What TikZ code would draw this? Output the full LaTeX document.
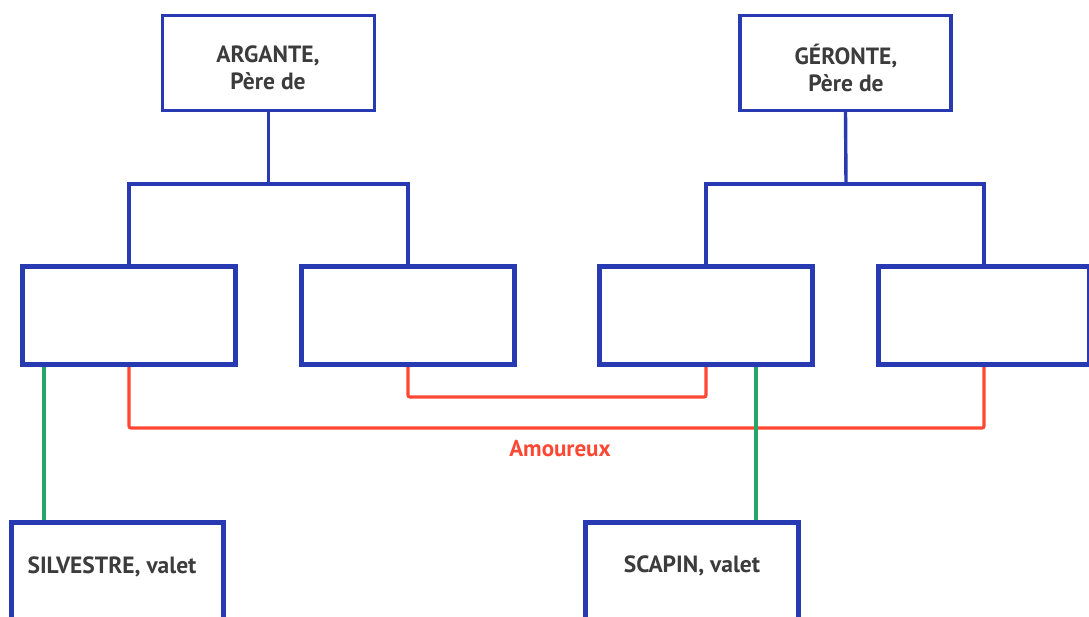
\documentclass[tikz,border=0pt]{standalone}
\usepackage{fontspec}
\setmainfont{PT Sans}
\definecolor{boxblue}{RGB}{40,58,178}
\definecolor{lovered}{RGB}{255,72,52}
\definecolor{valgreen}{RGB}{40,166,104}
\definecolor{txtgray}{RGB}{60,60,60}
\tikzset{
  famille/.style={draw=boxblue, line width=3.4pt, fill=white, inner sep=0pt, line join=miter},
  nomtxt/.style={text=txtgray, font=\fontsize{23.5}{27}\selectfont\bfseries, align=center, inner sep=0pt},
  liena/.style={draw=boxblue, line width=3.4pt, line join=miter},
  amour/.style={draw=lovered, line width=3.2pt, rounded corners=2pt},
  valet/.style={draw=valgreen, line width=3.2pt},
}
\begin{document}
\begin{tikzpicture}[x=1pt,y=-1pt]
\useasboundingbox (0,0) rectangle (1089,617);
\clip (0,0) rectangle (1089,617);
\coordinate (ja) at (268.5,184);
\coordinate (jg) at (846,184);
\coordinate (ra) at (0,428);
\coordinate (rb) at (0,397);
% boxes
\node[famille, minimum width=212pt, minimum height=95pt] (arg) at (268.5,63) {};
\node[famille, minimum width=211pt, minimum height=95pt] (ger) at (845.5,63) {};
\node[famille, minimum width=212pt, minimum height=97pt] (c1) at (129,315.5) {};
\node[famille, minimum width=212pt, minimum height=97pt] (c2) at (408,315.5) {};
\node[famille, minimum width=211pt, minimum height=97pt] (c3) at (706,315.5) {};
\node[famille, minimum width=210pt, minimum height=97pt] (c4) at (984,315.5) {};
\node[famille, minimum width=211pt, minimum height=110pt] (sil) at (117.5,578) {};
\node[famille, minimum width=212pt, minimum height=110pt] (sca) at (692,578) {};
% texts
\node[nomtxt] (argt) at (268,68) {ARGANTE,\\Père de};
\node[nomtxt] (gert) at (846,68) {GÉRONTE,\\Père de};
\node[nomtxt] (silt) at (112,567) {SILVESTRE, valet};
\node[nomtxt] (scat) at (692,566) {SCAPIN, valet};
% family links
\draw[liena] (arg.south) -- (ja);
\draw[liena] (c1.north) |- (ja) -| (c2.north);
\draw[liena] (ger.south) -- (jg);
\draw[liena] (c3.north) |- (jg) -| (c4.north);
% love links
\draw[amour] (c1.south) -- (c1.south |- ra) -| (c4.south);
\draw[amour] (c2.south) -- (c2.south |- rb) -| (c3.south);
\node[text=lovered, font=\fontsize{23}{26}\selectfont\bfseries, inner sep=0pt] (amt) at (560,449) {Amoureux};
% valet links
\draw[valet] (c1.south -| 44,0) -- (sil.north -| 44,0);
\draw[valet] (c3.south -| 756,0) -- (sca.north -| 756,0);
% redraw box borders over link ends
\foreach \n in {c1,c2,c3,c4,sil,sca}{\draw[boxblue, line width=3.4pt] (\n.south west) rectangle (\n.north east);}
\end{tikzpicture}
\end{document}
